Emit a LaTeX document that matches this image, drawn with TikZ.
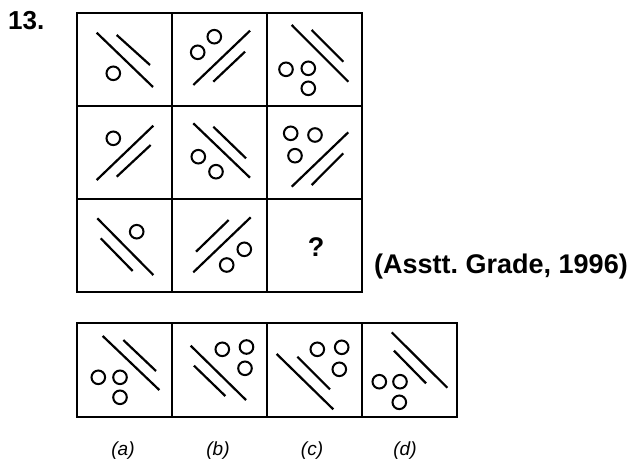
\documentclass[tikz,border=0pt]{standalone}
\usepackage{fontspec}
\setmainfont{Liberation Sans}
\begin{document}
\begin{tikzpicture}[x=1pt,y=-1pt,
  frame/.style={line width=2.6pt,line join=miter},
  bar/.style={line width=2.2pt},
  ring/.style={line width=2pt},
  lbl/.style={font=\fontsize{19}{19}\selectfont\itshape,inner sep=0pt},
]
\useasboundingbox (0,0) rectangle (635,467);
% grid
\draw[frame] (77,13) rectangle (362,292);
\draw[frame] (172,13) -- (172,292) (267,13) -- (267,292);
\draw[frame] (77,106) -- (362,106) (77,199) -- (362,199);
% answer row
\draw[frame] (77,323) rectangle (457,417);
\draw[frame] (172,323) -- (172,417) (267,323) -- (267,417) (362,323) -- (362,417);

\newcommand{\rg}[2]{\draw[ring] (#1,#2) circle (6.8);}
% cell 1,1
\draw[bar] (96.7,32.7) -- (153,87);
\draw[bar] (116.7,35) -- (150,65);
\rg{113.3}{73.3}
% cell 1,2
\draw[bar] (193.3,85) -- (250,30.7);
\draw[bar] (213.3,81.7) -- (245,51.7);
\rg{197.7}{52.3}\rg{214.3}{36.7}
% cell 1,3
\draw[bar] (291.7,25) -- (348.3,81.7);
\draw[bar] (311.7,30) -- (343.3,61.7);
\rg{286}{69.3}\rg{308.3}{68.3}\rg{308.3}{88.3}
% cell 2,1
\draw[bar] (96.7,180) -- (153.3,125.7);
\draw[bar] (116.7,176.7) -- (150.7,145);
\rg{113.3}{138.3}
% cell 2,2
\draw[bar] (193.3,123.3) -- (250,177.7);
\draw[bar] (213.3,126.7) -- (246,158.3);
\rg{198.3}{156.7}\rg{216}{171.7}
% cell 2,3
\draw[bar] (291.7,186.7) -- (348.3,132.3);
\draw[bar] (311.7,185) -- (343.3,153.3);
\rg{290.7}{133.3}\rg{315}{135}\rg{295}{155.7}
% cell 3,1
\draw[bar] (97.3,218.3) -- (153.3,275);
\draw[bar] (100.7,238.3) -- (132.7,271);
\rg{136.7}{231.7}
% cell 3,2
\draw[bar] (193.3,272.3) -- (250.7,217.3);
\draw[bar] (196,251.7) -- (228.7,220);
\rg{244.3}{249.3}\rg{226.7}{265}
% cell 3,3
\node[font=\fontsize{27}{27}\selectfont\bfseries,inner sep=0pt] (q) at (316,247) {?};
% answer a
\draw[bar] (102.7,336) -- (159.3,390);
\draw[bar] (123.3,340) -- (156,371);
\rg{98.3}{377.3}\rg{120}{377.3}\rg{120}{397.3}
% answer b
\draw[bar] (190.7,345.7) -- (246,400);
\draw[bar] (194,365.7) -- (225.3,396);
\rg{222.3}{349.3}\rg{246.5}{347}\rg{245}{368.3}
% answer c
\draw[bar] (276.7,354) -- (333.3,409.3);
\draw[bar] (297.3,356.7) -- (330,389.3);
\rg{317.3}{349.3}\rg{341.7}{347.3}\rg{339.3}{369.3}
% answer d
\draw[bar] (391.7,332.3) -- (447.3,387.7);
\draw[bar] (394,350.7) -- (426,383.3);
\rg{379.3}{381.7}\rg{400}{381.7}\rg{399.3}{402.3}
% texts
\node[anchor=west,inner sep=0pt,font=\fontsize{26}{26}\selectfont\bfseries] (num) at (8,21) {13.};
\node[anchor=west,inner sep=0pt,font=\fontsize{27}{27}\selectfont\bfseries] (src) at (374,267) {(Asstt.\ Grade, 1996)};
\node[lbl] (la) at (123,451) {(a)};
\node[lbl] (lb) at (218,451) {(b)};
\node[lbl] (lc) at (312,451) {(c)};
\node[lbl] (ld) at (405,451) {(d)};
\end{tikzpicture}
\end{document}
